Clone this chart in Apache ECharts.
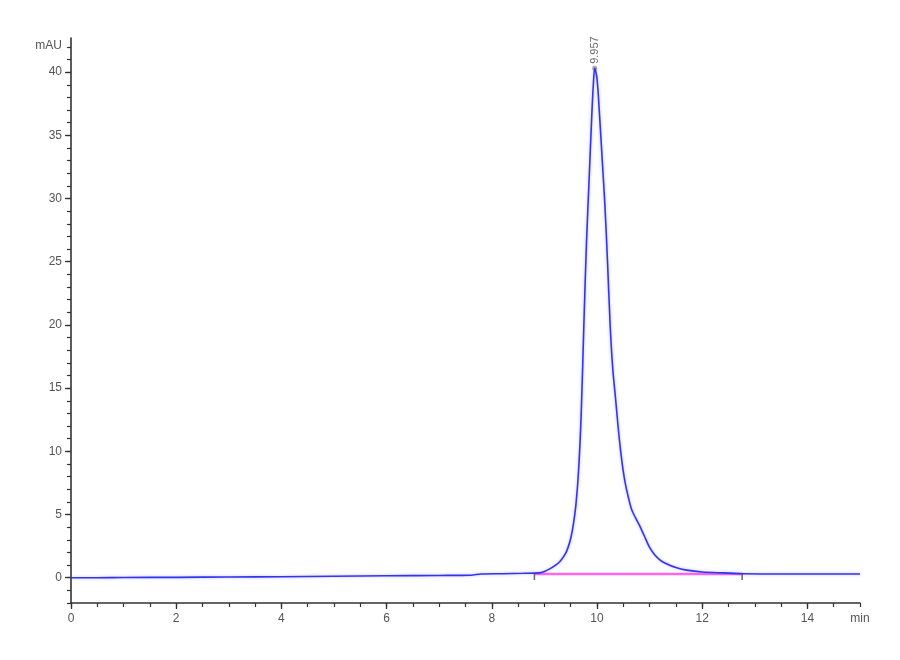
<!DOCTYPE html>
<html><head><meta charset="utf-8">
<script src="https://cdn.jsdelivr.net/npm/echarts@6/dist/echarts.min.js"></script>
<style>html,body{margin:0;padding:0;background:#fff}#c{width:900px;height:660px}</style>
</head><body><div id="c"></div>
<script>
// Chromatogram trace (time in min, absorbance in mAU)
const traceTime = [0,0.5,1,2,3,4,5,6,7,7.6,7.8,8.2,8.6,8.9,9.0,9.1,9.2,9.3,9.4,9.45,9.5,9.55,9.6,9.65,9.7,9.75,9.8,9.85,9.9,9.93,9.957,10.0,10.05,10.1,10.15,10.2,10.25,10.3,10.35,10.4,10.45,10.5,10.55,10.6,10.65,10.7,10.8,10.9,11.0,11.1,11.2,11.3,11.5,11.7,12.0,12.4,12.8,13.5,14,15];
const traceMAU  = [0.0,0.0,0.02,0.03,0.06,0.08,0.12,0.15,0.18,0.2,0.3,0.32,0.35,0.38,0.5,0.7,0.95,1.3,1.9,2.4,3.1,4.2,5.8,8.5,13,20,26.5,31.5,36.5,39,40.3,39.5,36.5,33,29.5,25,20,16.5,14.3,12,10,8.4,7.2,6.3,5.5,5.0,4.2,3.3,2.4,1.8,1.4,1.15,0.8,0.6,0.45,0.38,0.32,0.3,0.3,0.3];
// Integration baseline
const baseTime = [8.81, 12.76];
const baseMAU  = [0.3, 0.3];
// Peak annotation
const peakTime = [9.957];
const peakMAU  = [40.3];
const peakLabel = ['9.957'];
// Tick labels
const xTickLabels = [0,2,4,6,8,10,12,14];
const xUnitLabel = 'min';
const yTickLabels = [0,5,10,15,20,25,30,35,40];
const yUnitLabel = 'mAU';

const X_MIN=0, X_MAX=15, Y_MIN=-2, Y_MAX=42.7;
const xMinor=[]; for(let v=0; v<=X_MAX+1e-9; v+=0.5) xMinor.push(+v.toFixed(1));
const yMinor=[]; for(let v=Y_MIN; v<=42; v+=1) yMinor.push(v);

const txt = {color:'#555', fontFamily:'Liberation Sans, Arial, sans-serif', fontSize:12};
const axLine = {show:true,onZero:false,lineStyle:{color:'#333', width:1.6}};

const chart = echarts.init(document.getElementById('c'));
chart.setOption({
  animation:false,
  backgroundColor:'#fff',
  grid:{left:71,right:40,top:38,bottom:57},
  xAxis:[
    {type:'value',min:X_MIN,max:X_MAX,position:'bottom',
     axisLine:axLine,splitLine:{show:false},
     axisTick:{show:true,customValues:xTickLabels,length:6,lineStyle:{color:'#333',width:1.3}},
     axisLabel:Object.assign({customValues:xTickLabels.concat([X_MAX]),margin:10,
       formatter:v=> v===X_MAX?xUnitLabel:String(v)},txt)},
    {type:'value',min:X_MIN,max:X_MAX,position:'bottom',
     axisLine:{show:false,onZero:false},splitLine:{show:false},
     axisTick:{show:true,customValues:xMinor,length:4,lineStyle:{color:'#333',width:1.2}},
     axisLabel:{show:false}}
  ],
  yAxis:[
    {type:'value',min:Y_MIN,max:Y_MAX,position:'left',
     axisLine:axLine,splitLine:{show:false},
     axisTick:{show:true,customValues:yTickLabels,length:6,lineStyle:{color:'#333',width:1.3}},
     axisLabel:Object.assign({customValues:yTickLabels.concat([42.1]),margin:9,
       formatter:v=> v>41?yUnitLabel:String(v)},txt)},
    {type:'value',min:Y_MIN,max:Y_MAX,position:'left',
     axisLine:{show:false,onZero:false},splitLine:{show:false},
     axisTick:{show:true,customValues:yMinor,length:4,lineStyle:{color:'#333',width:1.2}},
     axisLabel:{show:false}}
  ],
  series:[
    {type:'line',name:'baseline',data:baseTime.map((t,i)=>[t,baseMAU[i]]),
     symbol:'none',lineStyle:{color:'#ff66ee',width:2.5},z:2},
    {type:'scatter',data:baseTime.map((t,i)=>[t,baseMAU[i]-0.25]),
     symbol:'rect',symbolSize:[1.5,6],itemStyle:{color:'#444'},z:3},
    {type:'line',name:'trace',data:traceTime.map((t,i)=>[t,traceMAU[i]]),
     symbol:'none',smooth:0.3,lineStyle:{color:'#3535e8',width:1.6,shadowColor:'rgba(90,90,255,0.45)',shadowBlur:3},z:4},
    {type:'scatter',data:peakTime.map((t,i)=>[t,peakMAU[i]]),
     symbol:'circle',symbolSize:5,itemStyle:{color:'rgba(70,70,110,0.6)'},z:5,
     label:{show:true,position:'top',rotate:90,distance:2,align:'left',verticalAlign:'middle',
       formatter:(p)=>peakLabel[p.dataIndex],color:'#444',fontSize:11,fontFamily:'Liberation Sans, Arial, sans-serif'}}
  ]
});
</script></body></html>
